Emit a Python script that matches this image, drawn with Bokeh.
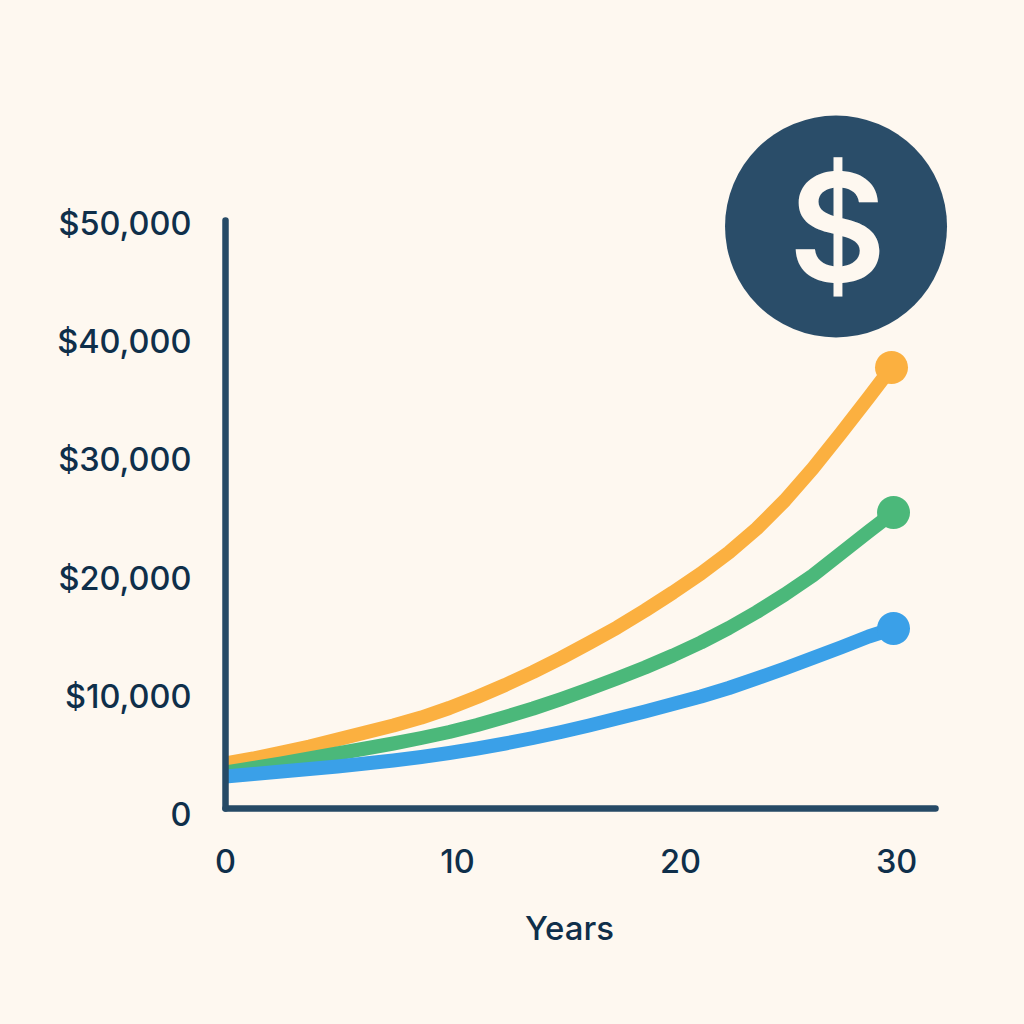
from bokeh.embed import file_html
from bokeh.models import ColumnDataSource, FixedTicker, Label, LinearAxis
from bokeh.plotting import figure
from bokeh.resources import INLINE

YEARS = [0, 1.25, 2.5, 3.75, 5, 6.25, 7.5, 8.75, 10, 11.25, 12.5, 13.75, 15, 16.25, 17.5,
         18.75, 20, 21.25, 22.5, 23.75, 25, 26.25, 27.5, 28.75]
YEARS_ORANGE = YEARS + [29.77]
YEARS_OTHER = YEARS + [29.86]
ORANGE = [4315, 4738, 5245, 5753, 6345, 6937, 7529, 8206, 9010, 9941, 10956, 12056, 13240,
          14509, 15820, 17258, 18781, 20389, 22165, 24196, 26564, 29272, 32233, 35278, 37816]
GREEN = [3553, 3934, 4315, 4738, 5161, 5584, 6007, 6472, 6980, 7572, 8249, 8968, 9771,
         10617, 11506, 12436, 13451, 14551, 15778, 17132, 18612, 20219, 22081, 23942, 25549]
BLUE = [3215, 3426, 3638, 3849, 4061, 4315, 4568, 4865, 5203, 5584, 6007, 6472, 6980,
        7529, 8122, 8714, 9348, 9983, 10702, 11506, 12352, 13240, 14128, 15059, 15736]
Y_TICKS = [0, 10000, 20000, 30000, 40000, 50000]
Y_LABELS = ["0", "$10,000", "$20,000", "$30,000", "$40,000", "$50,000"]
X_TICKS = [0, 10.37, 20.34, 30.0]
X_LABELS = ["0", "10", "20", "30"]
X_TITLE = "Years"
ICON_TEXT = "$"

BG = "#FEF8F0"
AXIS = "#264A66"
INK = "#0F2F4A"
ICON = "#2A4D69"
C_ORANGE = "#FBB040"
C_GREEN = "#4BB87A"
C_BLUE = "#3AA0E8"
FONT = "Inter Medium, Inter"

p = figure(width=1008, height=1008, output_backend="svg", toolbar_location=None,
           x_range=(-10.06, 35.0), y_range=(-16412, 68864),
           x_axis_type=None, y_axis_type=None, min_border=0,
           background_fill_color=BG, border_fill_color=BG, outline_line_color=None)

for xs, ys, col in [(YEARS_ORANGE, ORANGE, C_ORANGE), (YEARS_OTHER, GREEN, C_GREEN), (YEARS_OTHER, BLUE, C_BLUE)]:
    src = ColumnDataSource(dict(x=xs, y=ys))
    p.line("x", "y", source=src, line_color=col, line_width=14, line_join="round")
    p.scatter(xs[-1:], ys[-1:], size=33, color=col, line_color=None)

# icon
p.scatter([27.29], [49745], size=222, color=ICON, line_color=None)
p.add_layout(Label(x=837, y=782, x_units="screen", y_units="screen", text=ICON_TEXT, text_color=BG,
                   text_font="Inter SemiBold, Inter", text_font_size="150px",
                   text_align="center", text_baseline="middle"))

def style(ax):
    ax.axis_line_color = AXIS
    ax.axis_line_width = 6.5
    ax.axis_line_cap = "round"
    ax.major_tick_line_color = None
    ax.minor_tick_line_color = None
    ax.major_tick_in = 0
    ax.major_tick_out = 0
    ax.major_label_text_color = INK
    ax.major_label_text_font = FONT
    ax.major_label_text_font_size = "32.5px"

xa = LinearAxis(fixed_location=508, bounds=(0, 31.74),
                ticker=FixedTicker(ticks=X_TICKS),
                major_label_overrides=dict(zip(X_TICKS, X_LABELS)))
style(xa)
xa.major_label_standoff = 41
ya = LinearAxis(fixed_location=0, bounds=(508, 50250),
                ticker=FixedTicker(ticks=Y_TICKS),
                major_label_overrides=dict(zip(Y_TICKS, Y_LABELS)))
style(ya)
ya.major_label_standoff = 34
p.add_layout(xa, "below")
p.add_layout(ya, "left")

p.add_layout(Label(x=569, y=81, x_units="screen", y_units="screen", text=X_TITLE, text_color=INK,
                   text_font=FONT, text_font_size="33px", text_align="center", text_baseline="middle"))

html = file_html(p, INLINE)
html = html.replace("<head>", "<head><style>html,body{background:%s}</style>" % BG, 1)
open("out.html", "w").write(html)
